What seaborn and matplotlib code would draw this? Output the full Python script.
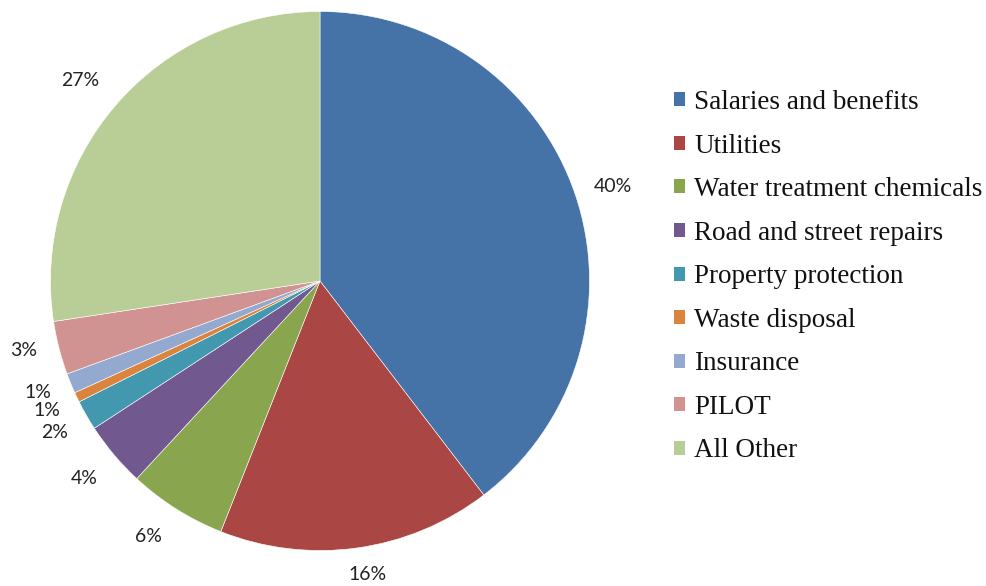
import matplotlib
matplotlib.use("Agg")
import matplotlib.pyplot as plt
import matplotlib.patches as mpatches
import seaborn as sns
import numpy as np

categories = ["Salaries and benefits", "Utilities", "Water treatment chemicals",
              "Road and street repairs", "Property protection", "Waste disposal",
              "Insurance", "PILOT", "All Other"]
values = [39.6, 16.4, 5.9, 3.9, 1.8, 0.6, 1.2, 3.2, 27.4]
pct_labels = ["40%", "16%", "6%", "4%", "2%", "1%", "1%", "3%", "27%"]
colors = ["#4572A7", "#AA4643", "#89A54E", "#71588F", "#4198AF",
          "#DB843D", "#93A9CF", "#D19392", "#B9CD96"]

sns.set_theme(style="white")
palette = sns.color_palette(colors)

fig = plt.figure(figsize=(9.86, 5.86), dpi=100)
W, H = 986, 586
cx, cy, r = 320, 281, 269.5
ax = fig.add_axes([(cx - r) / W, (H - cy - r) / H, 2 * r / W, 2 * r / H])

wedges, _ = ax.pie(values, colors=palette, startangle=90, counterclock=False,
                   radius=1.0, wedgeprops=dict(edgecolor="white", linewidth=0.4))
ax.set_xlim(-1, 1)
ax.set_ylim(-1, 1)
ax.set_aspect("equal")
ax.axis("off")

# label positions (adjusted like the reference to avoid overlap)
label_pos = {
    "40%": (613, 186), "16%": (368, 575), "6%": (148, 536), "4%": (84, 478),
    "2%": (55, 433), "1%a": (47, 411), "1%b": (38, 392), "3%": (24, 351), "27%": (80, 81),
}
keys = ["40%", "16%", "6%", "4%", "2%", "1%a", "1%b", "3%", "27%"]
for k, lab in zip(keys, pct_labels):
    px, py = label_pos[k]
    fig.text(px / W, 1 - py / H, lab, ha="center", va="center",
             fontsize=14, family=["Lato", "DejaVu Sans"], color="#222222")

handles = [mpatches.Patch(facecolor=c, edgecolor="none") for c in palette]
leg = fig.legend(handles, categories, loc="upper left", bbox_to_anchor=(674 / W, 1 - 90 / H),
                 frameon=False, prop=dict(family="Liberation Serif", size=19.5),
                 handlelength=0.42, handleheight=0.42, handletextpad=0.32,
                 labelspacing=0.685, borderaxespad=0, borderpad=0)
for t in leg.get_texts():
    t.set_color("#111111")

fig.savefig("out.png", dpi=100, facecolor="white")
